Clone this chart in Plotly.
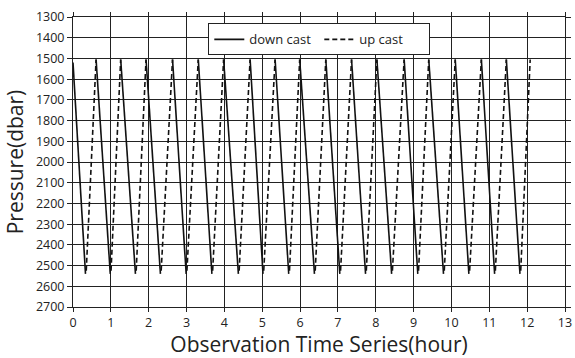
import plotly.graph_objects as go

# turning points of the profiling float (hours)
top_times = [0.0, 0.61, 1.26, 1.93, 2.63, 3.31, 3.98, 4.68, 5.34, 5.99, 6.68,
             7.36, 8.03, 8.75, 9.40, 10.10, 10.79, 11.45, 12.08]
bottom_times = [0.33, 0.985, 1.65, 2.31, 2.99, 3.67, 4.37, 5.02, 5.70, 6.38,
                7.05, 7.73, 8.42, 9.11, 9.79, 10.46, 11.14, 11.81]
top_pressure = [1520] + [1505] * 18
bottom_pressure = [2540] * 18
up_start_pressure = [2525] * 18

x_ticks = list(range(0, 14))
y_ticks = list(range(1300, 2701, 100))

# down casts: top -> bottom ; up casts: bottom -> next top
dx, dy = [], []
for i in range(len(bottom_times)):
    dx += [top_times[i], bottom_times[i], None]
    dy += [top_pressure[i], bottom_pressure[i], None]
ux, uy = [], []
for i in range(len(bottom_times)):
    ux += [bottom_times[i] + 0.02, top_times[i + 1], None]
    uy += [up_start_pressure[i], top_pressure[i + 1], None]

fig = go.Figure()
fig.add_trace(go.Scatter(x=dx, y=dy, mode="lines", name="down cast",
                         line=dict(color="#111", width=1.6)))
fig.add_trace(go.Scatter(x=ux, y=uy, mode="lines", name="up cast",
                         line=dict(color="#111", width=1.6, dash="5px,3px")))

font = "Open Sans, Lato, sans-serif"
fig.update_layout(
    width=575, height=358,
    margin=dict(l=73, r=4, t=17, b=50),
    paper_bgcolor="white", plot_bgcolor="white",
    font=dict(family=font, color="#222", size=12.5),
    legend=dict(orientation="h", x=0.275, y=0.978, xanchor="left", yanchor="top",
                bgcolor="white", bordercolor="#222", borderwidth=1,
                font=dict(size=13, family=font), entrywidth=65,
                tracegroupgap=0),
    xaxis=dict(range=[0, 13], tickvals=x_ticks, showgrid=True, gridcolor="#222",
               gridwidth=1, zeroline=False, showline=True, linecolor="#222",
               linewidth=1, mirror="ticks", ticks="outside", ticklen=4,
               tickcolor="#222",
               title=dict(text="Observation Time Series(hour)",
                          font=dict(size=21, family=font), standoff=8)),
    yaxis=dict(range=[2700, 1300], tickvals=y_ticks, showgrid=True, gridcolor="#222",
               gridwidth=1, zeroline=False, showline=True, linecolor="#222",
               linewidth=1, mirror="ticks", ticks="outside", ticklen=5,
               tickcolor="#222",
               title=dict(text="Pressure(dbar)", font=dict(size=21, family=font),
                          standoff=6)),
)
fig.write_html("out.html")
